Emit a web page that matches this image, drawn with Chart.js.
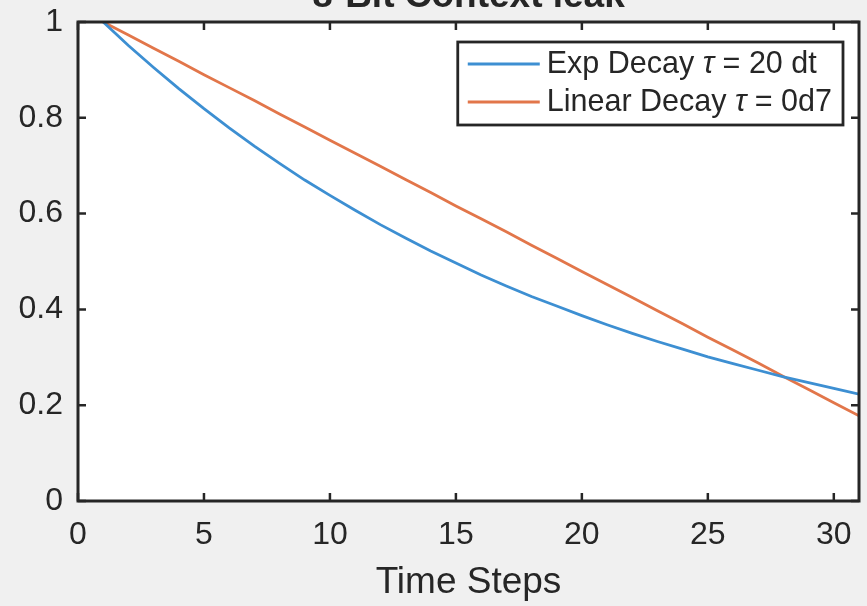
<!DOCTYPE html>
<html>
<head>
<meta charset="utf-8">
<title>8-Bit Context leak</title>
<script src="https://cdn.jsdelivr.net/npm/chart.js@4"></script>
<style>
  html, body { margin: 0; padding: 0; background: #f0f0f0; }
  canvas { display: block; }
</style>
</head>
<body>
<canvas id="leakChart" width="867" height="606"></canvas>
<script>
// time steps 1..31 and the two decay curves
var timeSteps = [1, 2, 3, 4, 5, 6, 7, 8, 9, 10, 11, 12, 13, 14, 15, 16,
    17, 18, 19, 20, 21, 22, 23, 24, 25, 26, 27, 28, 29, 30, 31]
var expDecay = [1, 0.951, 0.905, 0.861, 0.819, 0.779, 0.741, 0.705, 0.670, 0.638,
    0.607, 0.577, 0.549, 0.522, 0.497, 0.472, 0.449, 0.427, 0.407, 0.387,
    0.368, 0.350, 0.333, 0.317, 0.301, 0.287, 0.273, 0.259, 0.247, 0.235, 0.223]
var linearDecay = [1, 0.973, 0.945, 0.918, 0.890, 0.863, 0.836, 0.808, 0.781, 0.753,
    0.726, 0.699, 0.671, 0.644, 0.616, 0.589, 0.562, 0.534, 0.507, 0.479,
    0.452, 0.425, 0.397, 0.370, 0.342, 0.315, 0.288, 0.260, 0.233, 0.205, 0.178]
var seriesNames = ['Exp Decay \u03c4 = 20 dt', 'Linear Decay \u03c4 = 0d7']
var seriesColors = ['#3d8fd2', '#e2764a']
var xTickStep = 5
var yTickStep = 0.2

var FONT = "'Liberation Sans', Arial, Helvetica, sans-serif"
var INK = '#262626'

function toPoints(xs, ys) {
    return xs.map(function (x, i) { return { x: x, y: ys[i] } })
}

// white plot area, boxed axes with inward ticks, cut-off title, framed legend
var matlabLook = {
    id: 'matlabLook',
    beforeDraw: function (chart) {
        var ctx = chart.ctx, a = chart.chartArea
        ctx.save()
        ctx.fillStyle = '#ffffff'
        ctx.fillRect(a.left, a.top, a.right - a.left, a.bottom - a.top)
        ctx.restore()
    },
    afterDraw: function (chart) {
        var ctx = chart.ctx, a = chart.chartArea
        var xs = chart.scales.x, ys = chart.scales.y
        var tick = 8
        ctx.save()
        ctx.strokeStyle = INK
        ctx.lineWidth = 2.5
        ctx.beginPath()
        xs.ticks.forEach(function (t) {
            var px = xs.getPixelForValue(t.value)
            ctx.moveTo(px, a.bottom); ctx.lineTo(px, a.bottom - tick)
            ctx.moveTo(px, a.top); ctx.lineTo(px, a.top + tick)
        })
        ys.ticks.forEach(function (t) {
            var py = ys.getPixelForValue(t.value)
            ctx.moveTo(a.left, py); ctx.lineTo(a.left + tick, py)
            ctx.moveTo(a.right, py); ctx.lineTo(a.right - tick, py)
        })
        ctx.stroke()
        ctx.lineWidth = 3
        ctx.strokeRect(a.left, a.top, a.right - a.left, a.bottom - a.top)

        // title sits above the top edge of the canvas, only its lower part shows
        ctx.fillStyle = INK
        ctx.font = 'bold 37px ' + FONT
        ctx.textAlign = 'center'
        ctx.textBaseline = 'alphabetic'
        ctx.fillText('8-Bit Context leak', (a.left + a.right) / 2, 7)

        // legend
        var fontSize = 30.5
        var plain = fontSize + 'px ' + FONT
        var italic = 'italic ' + fontSize + 'px ' + FONT
        var rows = chart.data.datasets.map(function (ds) {
            var parts = ds.label.split('\u03c4')
            var segs = [{ t: parts[0], f: plain }]
            if (parts.length > 1) {
                segs.push({ t: '\u03c4', f: italic })
                segs.push({ t: parts[1], f: plain })
            }
            var w = 0
            segs.forEach(function (s) { ctx.font = s.f; s.w = ctx.measureText(s.t).width; w += s.w })
            return { segs: segs, w: w, color: ds.borderColor }
        })
        var maxW = Math.max.apply(null, rows.map(function (r) { return r.w }))
        var textOff = 89
        var boxW = textOff + maxW + 11, boxH = 83
        var bx = a.right - 16 - boxW, by = a.top + 20
        ctx.fillStyle = '#ffffff'
        ctx.fillRect(bx, by, boxW, boxH)
        ctx.strokeStyle = INK
        ctx.lineWidth = 2.8
        ctx.strokeRect(bx, by, boxW, boxH)
        rows.forEach(function (r, i) {
            var ry = by + 22 + i * 38
            ctx.strokeStyle = r.color
            ctx.lineWidth = 2.8
            ctx.beginPath()
            ctx.moveTo(bx + 10, ry); ctx.lineTo(bx + 82, ry)
            ctx.stroke()
            var tx = bx + textOff
            ctx.fillStyle = INK
            ctx.textAlign = 'left'
            ctx.textBaseline = 'middle'
            r.segs.forEach(function (s) {
                ctx.font = s.f
                ctx.fillText(s.t, tx, ry + 1)
                tx += s.w
            })
        })
        ctx.restore()
    }
}

var leakCanvas = document.getElementById('leakChart').getContext('2d')
new Chart(leakCanvas, {
    type: 'line',
    data: {
        datasets: [{
            label: seriesNames[0],
            data: toPoints(timeSteps, expDecay),
            borderColor: seriesColors[0],
            borderWidth: 2.8,
            pointRadius: 0,
            fill: false
        }, {
            label: seriesNames[1],
            data: toPoints(timeSteps, linearDecay),
            borderColor: seriesColors[1],
            borderWidth: 2.8,
            pointRadius: 0,
            fill: false
        }]
    },
    options: {
        responsive: false,
        animation: false,
        layout: { padding: { top: 22, right: 8, left: 0, bottom: 0 } },
        plugins: {
            legend: { display: false },
            title: { display: false },
            tooltip: { enabled: false }
        },
        scales: {
            x: {
                type: 'linear',
                min: 0,
                max: 31,
                grid: { display: false, drawTicks: false },
                border: { display: false },
                ticks: {
                    stepSize: xTickStep,
                    includeBounds: false,
                    maxRotation: 0,
                    padding: 15,
                    color: INK,
                    font: { family: FONT, size: 32 }
                },
                title: {
                    display: true,
                    text: 'Time Steps',
                    color: INK,
                    padding: { top: 0, bottom: 1 },
                    font: { family: FONT, size: 37 }
                },
                afterFit: function (scale) {
                    scale.height = 105
                    scale.paddingLeft = 0
                    scale.paddingRight = 0
                }
            },
            y: {
                min: 0,
                max: 1,
                grid: { display: false, drawTicks: false },
                border: { display: false },
                ticks: {
                    stepSize: yTickStep,
                    includeBounds: false,
                    padding: 15,
                    color: INK,
                    font: { family: FONT, size: 32 },
                    callback: function (v) { return String(Number(v.toFixed(1))) }
                },
                afterFit: function (scale) {
                    scale.width = 78
                    scale.paddingTop = 0
                    scale.paddingBottom = 0
                }
            }
        }
    },
    plugins: [matlabLook]
})
</script>
</body>
</html>
